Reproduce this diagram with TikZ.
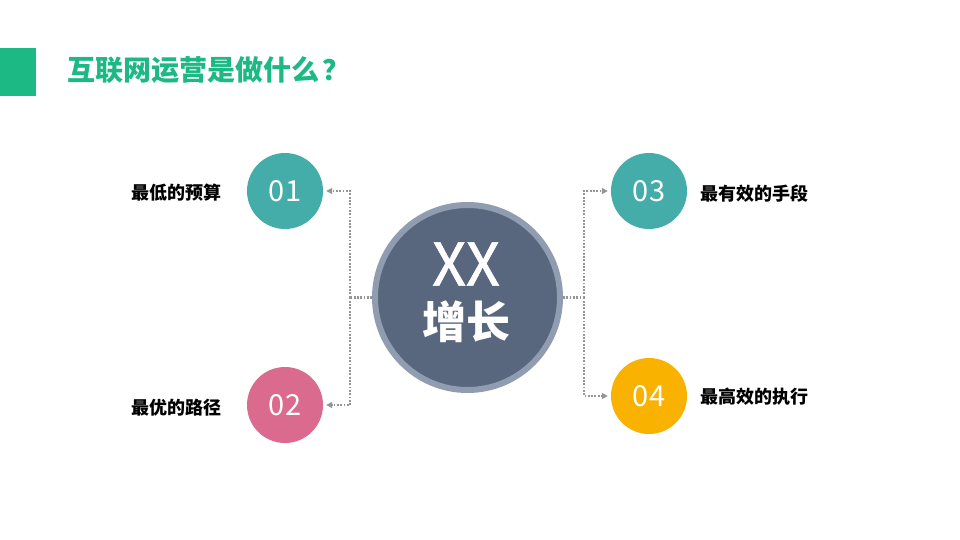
\documentclass[tikz,border=0pt]{standalone}
\usepackage{fontspec}
\setmainfont{Noto Sans CJK SC}
\newfontfamily\cjk{Noto Sans CJK SC}
\newfontfamily\cjkfb[FakeBold=1.2]{Noto Sans CJK SC}
\usetikzlibrary{arrows.meta}
\definecolor{titlegreen}{HTML}{1DB985}
\definecolor{tealc}{HTML}{44ADA9}
\definecolor{pinkc}{HTML}{DA6B8F}
\definecolor{yellowc}{HTML}{F9B200}
\definecolor{centerfill}{HTML}{58667E}
\definecolor{centerring}{HTML}{909DB0}
\definecolor{connc}{HTML}{959595}
\tikzset{
  numcirc/.style={circle, minimum size=76pt, inner sep=0pt, text=white, font=\cjk\fontsize{29}{29}\selectfont},
  lbl/.style={inner sep=0pt, font=\cjk\bfseries\fontsize{18}{18}\selectfont, text=black},
  conn/.style={draw=connc, line width=2.4pt, dash pattern=on 1.8pt off 1.5pt},
  connarrow/.style={conn, -{Triangle[length=6pt,width=6pt]}, shorten >=3pt},
}
\begin{document}
\begin{tikzpicture}[x=1pt,y=-1pt]
\useasboundingbox (0,0) rectangle (960,540);
\fill[white] (0,0) rectangle (960,540);
% title
\fill[titlegreen] (0,48) rectangle (36,96);
\node[anchor=west, inner sep=0pt, text=titlegreen, font=\cjk\bfseries\fontsize{28}{28}\selectfont] (title) at (67,70) {互联网运营是做什么\hspace{3pt}？};
% center
\node[circle, minimum size=185pt, inner sep=0pt, fill=centerfill, draw=centerring, line width=6pt] (c) at (467.5,297.5) {};
\node[inner sep=0pt, text=white, font=\cjkfb\fontsize{59}{59}\selectfont] (xx) at (466,264) {XX};
\node[inner sep=0pt, text=white, font=\cjk\bfseries\fontsize{44}{44}\selectfont] (zz) at (466,322) {增长};
% number circles
\node[numcirc, fill=tealc] (n1) at (285,191) {01};
\node[numcirc, fill=pinkc] (n2) at (285,405) {02};
\node[numcirc, fill=tealc] (n3) at (649,191) {03};
\node[numcirc, fill=yellowc] (n4) at (649,396) {04};
% labels
\node[lbl, anchor=west] (l1) at (131,193) {最低的预算};
\node[lbl, anchor=west] (l2) at (131,408) {最优的路径};
\node[lbl, anchor=west] (l3) at (700,194) {最有效的手段};
\node[lbl, anchor=west] (l4) at (700,397) {最高效的执行};
% connectors
\draw[conn] (c.west) -- (350,297.5) coordinate (lj);
\draw[connarrow] (lj) |- (n1.east);
\draw[connarrow] (lj) |- (n2.east);
\draw[conn] (c.east) -- (584,297.5) coordinate (rj);
\draw[connarrow] (rj) |- (n3.west);
\draw[connarrow] (rj) |- (n4.west);
\end{tikzpicture}
\end{document}
